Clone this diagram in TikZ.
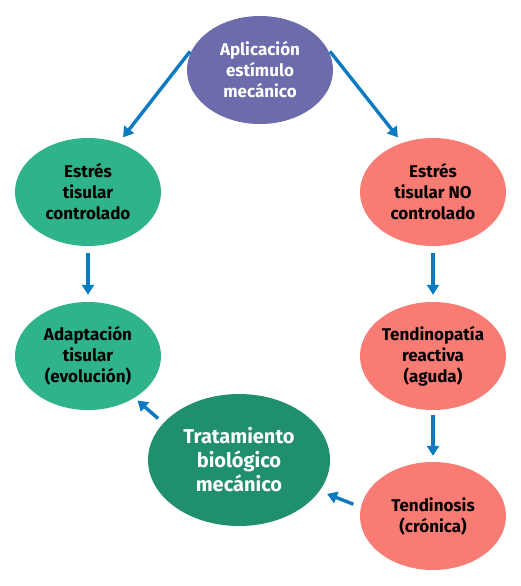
\documentclass[tikz,border=0pt]{standalone}
\usepackage{fontspec}
\setmainfont{Fira Sans}
\usetikzlibrary{shapes.geometric,arrows.meta}
\definecolor{morado}{HTML}{6C6BAC}
\definecolor{verde}{HTML}{2EB38A}
\definecolor{verdeosc}{HTML}{1F8F6D}
\definecolor{salmon}{HTML}{F97C74}
\definecolor{azul}{HTML}{0A7BC0}
\begin{document}
\begin{tikzpicture}[x=1pt,y=-1pt,
  ev/.style={ellipse,inner sep=0pt,minimum width=146pt,minimum height=108pt,align=center,font=\fontsize{17}{21}\selectfont\bfseries},
  fl/.style={draw=azul,line width=3.4pt,-{Triangle[length=10pt,width=12pt]}}]
\useasboundingbox (0,0) rectangle (521,586);
\node[ev,fill=morado,text=white] (apl) at (260,70) {Aplicación\\estímulo\\mecánico};
\node[ev,fill=verde] (ctr) at (88,192) {Estrés\\tisular\\controlado};
\node[ev,fill=salmon] (noctr) at (433,192) {Estrés\\tisular NO\\controlado};
\node[ev,fill=verde] (adap) at (88,356) {Adaptación\\tisular\\(evolución)};
\node[ev,fill=salmon] (reac) at (433,356) {Tendinopatía\\reactiva\\(aguda)};
\node[ev,fill=salmon] (cron) at (433,516) {Tendinosis\\(crónica)};
\node[ev,fill=verdeosc,text=white,minimum width=182pt,minimum height=132pt,font=\fontsize{20}{24}\selectfont\bfseries] (trat) at (239,460) {Tratamiento\\biológico\\mecánico};
\draw[fl,shorten <=8pt,shorten >=7pt] (apl.159) -- (ctr.58);
\draw[fl,shorten <=8pt,shorten >=7pt] (apl.21) -- (noctr.122);
\draw[fl,shorten <=7pt,shorten >=7pt] (ctr) -- (adap);
\draw[fl,shorten <=7pt,shorten >=7pt] (noctr) -- (reac);
\draw[fl,shorten <=5pt,shorten >=6pt] (reac) -- (cron);
\draw[fl,shorten <=8pt,shorten >=8pt] (cron.173) -- (trat.-21);
\draw[fl,shorten <=7pt,shorten >=4pt] (trat.154) -- (adap.-42);
\end{tikzpicture}
\end{document}
